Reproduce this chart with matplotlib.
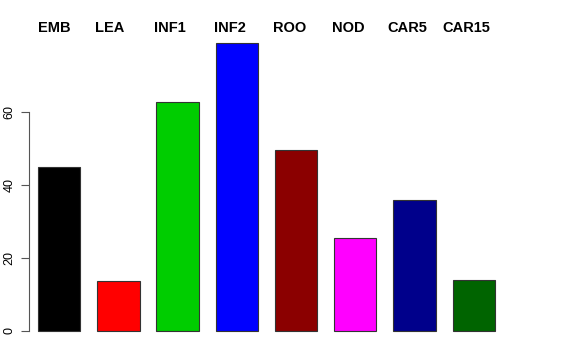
import matplotlib
matplotlib.use('Agg')
import matplotlib.pyplot as plt
import numpy as np

plt.rcParams['font.family'] = ['Liberation Sans', 'DejaVu Sans']

# data
tissues = ['EMB', 'LEA', 'INF1', 'INF2', 'ROO', 'NOD', 'CAR5', 'CAR15']
values = [44.9, 13.7, 62.7, 78.9, 49.6, 25.5, 35.9, 14.0]
colors = ['#000000', '#FF0000', '#00CD00', '#0000FF', '#8B0000', '#FF00FF', '#00008B', '#006400']
# left edge shift of each header label, relative to its bar
label_shift = [0.0, -0.05, -0.05, -0.03, -0.04, -0.04, -0.14, -0.24]

fig = plt.figure(figsize=(5.76, 3.6), dpi=100)
ax = fig.add_axes([0.0503, 0.0486, 0.8245, 0.8639])

# R-style barplot: width 1, space 0.4
x = 0.9 + 1.4 * np.arange(len(values))
ax.bar(x, values, width=1.0, color=colors, edgecolor='#333333', linewidth=0.8)

ymax = max(values)
ax.set_ylim(-0.04 * ymax, 1.04 * ymax)
ax.set_xlim(0.187, 11.413)

for xi, lab, s in zip(x, tissues, label_shift):
    ax.text(xi - 0.5 + s, 83.0, lab, ha='left', va='center',
            fontsize=10.5, fontweight='bold', clip_on=False)

for side in ['top', 'right', 'bottom']:
    ax.spines[side].set_visible(False)
ax.spines['left'].set_bounds(0, 60)
ax.spines['left'].set_color('#555555')
ax.spines['left'].set_linewidth(0.8)
ax.set_xticks([])
ax.set_yticks([0, 20, 40, 60])
ax.tick_params(axis='y', length=6, width=0.8, color='#555555', pad=3.5, labelsize=9)
for t in ax.get_yticklabels():
    t.set_rotation(90)
    t.set_va('center')

fig.savefig('out.png', dpi=100)
